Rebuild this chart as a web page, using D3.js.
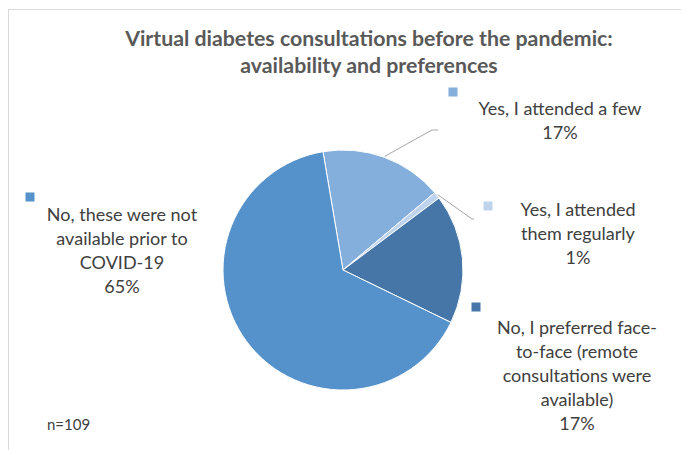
<!DOCTYPE html>
<html><head><meta charset="utf-8">
<script src="https://cdn.jsdelivr.net/npm/d3@7"></script>
<style>body{margin:0;background:#fff}svg{display:block}</style>
</head><body>
<svg id="c" width="681" height="450"></svg>
<script>
const categories = ["Yes, I attended a few", "Yes, I attended them regularly", "No, I preferred face-to-face (remote consultations were available)", "No, these were not available prior to COVID-19"];
const counts = [18, 1, 19, 71];
const percentLabels = ["17%", "1%", "17%", "65%"];
const labelLines = [
  ["Yes, I attended a few"],
  ["Yes, I attended", "them regularly"],
  ["No, I preferred face-", "to-face (remote", "consultations were", "available)"],
  ["No, these were not", "available prior to", "COVID-19"]
];
const colors = ["#84AEDC", "#BDD3EE", "#4676A8", "#5591CA"];
const titleLines = ["Virtual diabetes consultations before the pandemic:", "availability and preferences"];
const note = "n=109";

const svg = d3.select("#c");
const font = "Lato, 'Open Sans', sans-serif";

svg.append("rect").attr("x", 8.5).attr("y", 9.5).attr("width", 700).attr("height", 500)
  .attr("fill", "#fff").attr("stroke", "#D9D9D9").attr("stroke-width", 1);

svg.append("g").selectAll("text").data(titleLines).join("text")
  .attr("x", 369).attr("y", (d, i) => 46 + i * 27)
  .attr("text-anchor", "middle").attr("font-family", font).attr("font-weight", "bold")
  .attr("font-size", 21.3).attr("fill", "#595959").text(d => d);

const cx = 343, cy = 270, r = 120;
const startA = -9.6 * Math.PI / 180;
const pie = d3.pie().sort(null).startAngle(startA).endAngle(startA + 2 * Math.PI);
const arcs = pie(counts);
const arc = d3.arc().innerRadius(0).outerRadius(r);
const g = svg.append("g").attr("transform", `translate(${cx},${cy})`);
g.selectAll("path").data(arcs).join("path")
  .attr("d", arc).attr("fill", (d, i) => colors[i])
  .attr("stroke", "#fff").attr("stroke-width", 1);

// leader lines
const leaders = [
  {i: 0, elbow: [432, 130], end: [438, 130]},
  {i: 1, elbow: [472, 219], end: [474, 219]}
];
const outer = d3.arc().innerRadius(r + 1).outerRadius(r + 1);
leaders.forEach(L => {
  const c = outer.centroid(arcs[L.i]);
  const p = [[cx + c[0], cy + c[1]], L.elbow, L.end];
  svg.append("path").attr("d", d3.line()(p)).attr("fill", "none")
    .attr("stroke", "#A6A6A6").attr("stroke-width", 1);
});

// labels
const labelPos = [
  {x: 560, y: 109, mx: 453, my: 92},
  {x: 578, y: 210, mx: 488, my: 206},
  {x: 577, y: 328, mx: 476, my: 307},
  {x: 122, y: 215, mx: 30, my: 197}
];
labelPos.forEach((p, i) => {
  svg.append("rect").attr("x", p.mx - 4.5).attr("y", p.my - 4.5).attr("width", 9).attr("height", 9)
    .attr("fill", colors[i]);
  const lines = labelLines[i].concat([percentLabels[i]]);
  svg.append("g").selectAll("text").data(lines).join("text")
    .attr("x", p.x).attr("y", (d, k) => p.y + k * 24)
    .attr("dy", "0.35em")
    .attr("text-anchor", "middle").attr("font-family", font)
    .attr("font-size", 18).attr("fill", "#404040").text(d => d);
});

svg.append("text").attr("x", 47).attr("y", 430).attr("font-family", font)
  .attr("font-size", 15).attr("fill", "#404040").text(note);
</script>
</body></html>
